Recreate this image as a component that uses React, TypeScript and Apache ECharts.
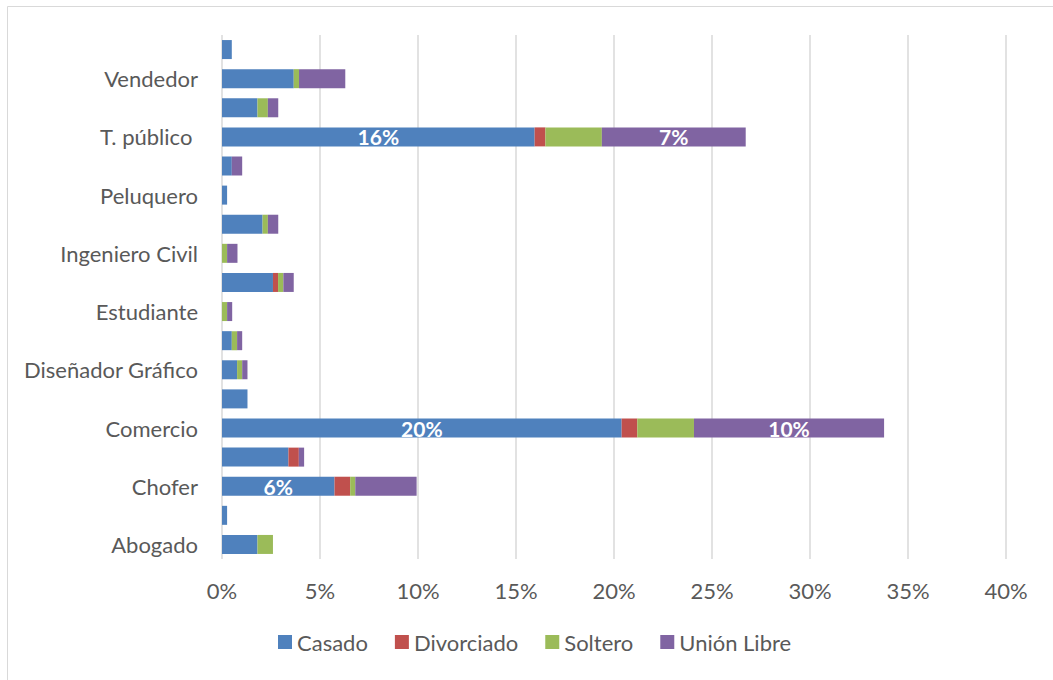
import React, { useEffect, useRef } from "react";
import * as echarts from "echarts";

const categories = [
  "Abogado",
  "Albañil",
  "Chofer",
  "Cocinero",
  "Comercio",
  "Contador",
  "Diseñador Gráfico",
  "Electricista",
  "Estudiante",
  "Ingeniero",
  "Ingeniero Civil",
  "Mecánico",
  "Peluquero",
  "Profesor",
  "T. público ",
  "Técnico",
  "Vendedor",
  "Zapatero",
];

const casado = [1.81, 0.26, 5.74, 3.39, 20.39, 1.3, 0.77, 0.5, 0, 2.6, 0, 2.07, 0.26, 0.5, 15.95, 1.81, 3.66, 0.5];
const divorciado = [0, 0, 0.8, 0.53, 0.8, 0, 0, 0, 0, 0.26, 0, 0, 0, 0, 0.55, 0, 0, 0];
const soltero = [0.79, 0, 0.26, 0, 2.89, 0, 0.26, 0.27, 0.26, 0.27, 0.26, 0.27, 0, 0, 2.88, 0.53, 0.27, 0];
const unionLibre = [0, 0, 3.13, 0.27, 9.7, 0, 0.27, 0.26, 0.26, 0.53, 0.53, 0.53, 0, 0.53, 7.34, 0.53, 2.36, 0];

const seriesNames = ["Casado", "Divorciado", "Soltero", "Unión Libre"];
const seriesColors = ["#4F81BD", "#C0504D", "#9BBB59", "#8064A2"];
const xTicks = { min: 0, max: 40, interval: 5 };

const FONT = "Lato, 'Open Sans', sans-serif";

export default function App() {
  const ref = useRef<HTMLDivElement>(null);

  useEffect(() => {
    if (!ref.current) return;
    const chart = echarts.init(ref.current, undefined, { renderer: "svg" });
    const seriesData = [casado, divorciado, soltero, unionLibre];
    chart.setOption({
      animation: false,
      backgroundColor: "#ffffff",
      textStyle: { fontFamily: FONT },
      graphic: [
        {
          type: "rect",
          shape: { x: 7.5, y: 6.5, width: 1200, height: 900 },
          style: { fill: "none", stroke: "#d9d9d9", lineWidth: 1 },
          silent: true,
        },
      ],
      grid: { left: 222, right: 47, top: 35, bottom: 121, containLabel: false },
      legend: {
        data: seriesNames,
        bottom: 22,
        left: 273,
        itemWidth: 14,
        itemHeight: 14,
        itemGap: 27,
        icon: "rect",
        textStyle: { fontFamily: FONT, fontSize: 22, color: "#595959" },
      },
      xAxis: {
        type: "value",
        min: xTicks.min,
        max: xTicks.max,
        interval: xTicks.interval,
        axisLine: { show: false },
        axisTick: { show: false },
        axisLabel: {
          formatter: "{value}%",
          fontFamily: FONT,
          fontSize: 22,
          color: "#595959",
          margin: 20,
        },
        splitLine: { show: true, lineStyle: { color: "#d9d9d9", width: 1.5 } },
      },
      yAxis: {
        type: "category",
        data: categories,
        axisLine: { show: false },
        axisTick: { show: false },
        axisLabel: {
          interval: 1,
          fontFamily: FONT,
          fontSize: 22,
          color: "#595959",
          margin: 24,
        },
      },
      series: seriesNames.map((name, i) => ({
        name,
        type: "bar",
        stack: "total",
        barWidth: 19,
        data: seriesData[i],
        itemStyle: { color: seriesColors[i] },
        label: {
          show: true,
          position: "inside",
          color: "#ffffff",
          fontFamily: FONT,
          fontWeight: "bold",
          fontSize: 21,
          formatter: (p: any) => (p.value >= 5 ? Math.round(p.value) + "%" : ""),
        },
      })),
    });
    return () => chart.dispose();
  }, []);

  return (
    <div
      ref={ref}
      style={{ position: "fixed", left: 0, top: 0, width: 1053, height: 680 }}
    />
  );
}
